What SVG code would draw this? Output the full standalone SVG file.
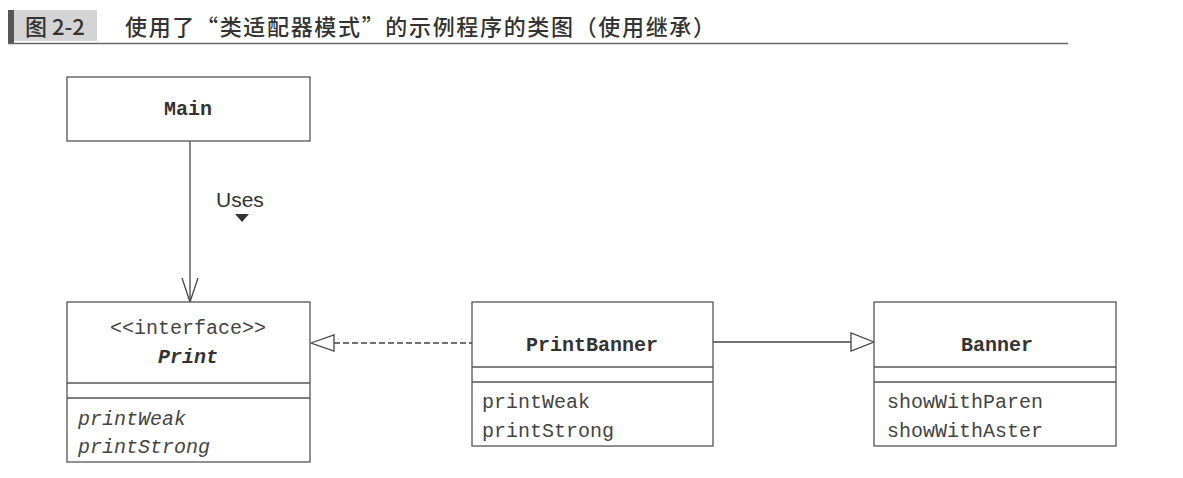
<svg xmlns="http://www.w3.org/2000/svg" width="1183" height="478" viewBox="0 0 1183 478">
<style>
.box{fill:#fff;stroke:#555;stroke-width:1.3}
.div{stroke:#555;stroke-width:1.3}
.cls{font-family:"Liberation Mono","DejaVu Sans Mono",monospace;font-size:20px;font-weight:bold;fill:#333;text-anchor:middle}
.mono{font-family:"Liberation Mono","DejaVu Sans Mono",monospace;font-size:20px;fill:#444}
.it{font-style:italic}
.ln{stroke:#444;stroke-width:1.3;fill:none}
.title{font-family:"Noto Sans CJK SC","Noto Sans",sans-serif;font-size:22px;font-weight:500;fill:#333}
</style>
<rect width="1183" height="478" fill="#fff"/>
<g id="header">
<rect x="13" y="10" width="84" height="31" fill="#d4d4d4"/>
<rect x="8" y="10" width="6" height="34" fill="#555"/>
<line x1="8" y1="43.5" x2="1068" y2="43.5" stroke="#666" stroke-width="1.5"/>
<text class="title" x="25" y="35">图 2-2</text>
<text class="title" x="125" y="35" textLength="590" lengthAdjust="spacing">使用了“类适配器模式”的示例程序的类图（使用继承）</text>
</g>
<g id="connectors">
<line class="ln" x1="190" y1="141" x2="190" y2="302"/>
<polyline class="ln" points="182,278 190,302 198,278"/>
<text x="216" y="207" font-family="Liberation Sans,Arial,sans-serif" font-size="21" fill="#333">Uses</text>
<polygon points="235,214 249,214 242,222" fill="#333"/>
<line class="ln" x1="334" y1="343" x2="472" y2="343" stroke-dasharray="6,3"/>
<polygon class="ln" points="311,343 334,335 334,351"/>
<line class="ln" x1="713" y1="342" x2="851" y2="342"/>
<polygon class="ln" points="874,342 851,333 851,351"/>
</g>
<g id="Main">
<rect class="box" x="67" y="77" width="243" height="64"/>
<text class="cls" x="188" y="115">Main</text>
</g>
<g id="Print">
<rect class="box" x="67" y="302" width="243" height="160"/>
<line class="div" x1="67" y1="383" x2="310" y2="383"/>
<line class="div" x1="67" y1="398" x2="310" y2="398"/>
<text class="mono" x="188" y="334" text-anchor="middle" fill="#555">&lt;&lt;interface&gt;&gt;</text>
<text class="cls it" x="188" y="363">Print</text>
<text class="mono it" x="78" y="425">printWeak</text>
<text class="mono it" x="78" y="453">printStrong</text>
</g>
<g id="PrintBanner">
<rect class="box" x="472" y="302" width="241" height="144"/>
<line class="div" x1="472" y1="367" x2="713" y2="367"/>
<line class="div" x1="472" y1="382" x2="713" y2="382"/>
<text class="cls" x="592" y="351">PrintBanner</text>
<text class="mono" x="482" y="408">printWeak</text>
<text class="mono" x="482" y="437">printStrong</text>
</g>
<g id="Banner">
<rect class="box" x="874" y="302" width="242" height="144"/>
<line class="div" x1="874" y1="367" x2="1116" y2="367"/>
<line class="div" x1="874" y1="382" x2="1116" y2="382"/>
<text class="cls" x="997" y="351">Banner</text>
<text class="mono" x="887" y="408">showWithParen</text>
<text class="mono" x="887" y="437">showWithAster</text>
</g>
</svg>
